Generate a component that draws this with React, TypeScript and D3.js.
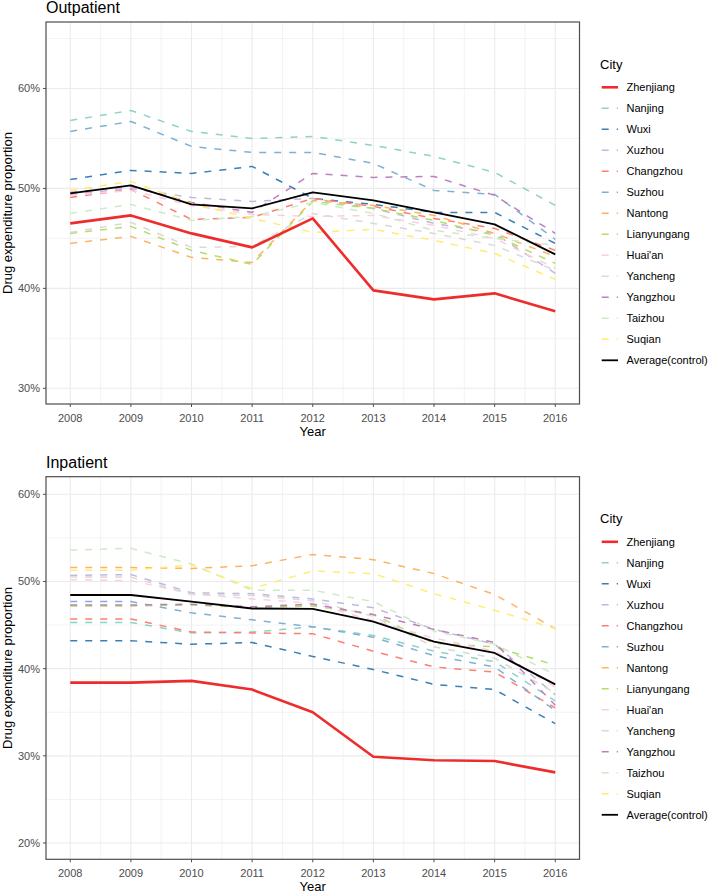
import React from "react";
import * as d3 from "d3";

const years = [2008, 2009, 2010, 2011, 2012, 2013, 2014, 2015, 2016];
const cities = ["Zhenjiang","Nanjing","Wuxi","Xuzhou","Changzhou","Suzhou","Nantong","Lianyungang","Huai'an","Yancheng","Yangzhou","Taizhou","Suqian","Average(control)"];
const cityColors = ["#EE2C2C","#8DD3C7","#3A7FB5","#BEBADA","#FB8072","#80B1D3","#FDB462","#B3DE69","#FCCDE5","#D9D9D9","#BC80BD","#CCEBC5","#FFED6F","#000000"];

// Outpatient (%)
const outZhenjiang = [46.5, 47.3, 45.5, 44.1, 47.0, 39.8, 38.9, 39.5, 37.7];
const outNanjing = [56.8, 57.8, 55.7, 55.0, 55.2, 54.3, 53.2, 51.6, 48.3];
const outWuxi = [50.9, 51.8, 51.5, 52.2, 49.0, 48.4, 47.6, 47.6, 44.5];
const outXuzhou = [49.4, 50.0, 49.1, 48.7, 49.0, 48.0, 46.5, 45.5, 41.5];
const outChangzhou = [49.1, 49.9, 46.9, 47.1, 49.0, 48.2, 47.0, 46.0, 43.8];
const outSuzhou = [55.7, 56.7, 54.2, 53.6, 53.6, 52.5, 49.8, 49.4, 44.9];
const outNantong = [44.5, 45.2, 43.1, 42.6, 48.8, 48.3, 47.3, 45.5, 43.2];
const outLianyungang = [45.5, 46.2, 43.8, 42.4, 48.7, 48.0, 46.8, 45.3, 42.5];
const outHuaian = [49.3, 49.8, 48.3, 47.4, 47.2, 47.3, 46.3, 45.0, 42.0];
const outYancheng = [45.6, 46.6, 44.1, 44.2, 47.5, 46.5, 45.5, 44.3, 41.8];
const outYangzhou = [49.6, 50.2, 48.6, 47.6, 51.5, 51.1, 51.2, 49.3, 45.5];
const outTaizhou = [47.5, 48.4, 46.8, 47.2, 48.6, 47.5, 45.8, 45.0, 44.3];
const outSuqian = [49.8, 50.7, 48.5, 47.0, 45.6, 45.9, 44.8, 43.5, 40.9];
const outAverage = [49.5, 50.3, 48.4, 48.0, 49.6, 48.8, 47.6, 46.4, 43.4];

// Inpatient (%)
const inZhenjiang = [38.4, 38.4, 38.6, 37.6, 35.0, 29.9, 29.5, 29.4, 28.1];
const inNanjing = [45.3, 45.3, 44.1, 44.2, 44.8, 43.8, 42.0, 40.8, 36.3];
const inWuxi = [43.2, 43.2, 42.8, 43.0, 41.4, 39.9, 38.2, 37.6, 33.7];
const inXuzhou = [50.7, 50.8, 48.7, 48.6, 48.0, 47.0, 44.5, 42.8, 37.0];
const inChangzhou = [45.7, 45.7, 44.2, 44.1, 44.0, 42.0, 40.2, 39.6, 35.5];
const inSuzhou = [47.7, 47.7, 46.4, 45.6, 44.8, 43.6, 41.5, 40.2, 35.2];
const inNantong = [51.6, 51.6, 51.5, 51.8, 53.1, 52.5, 50.9, 48.5, 44.6];
const inLianyungang = [47.2, 47.2, 47.3, 47.0, 47.2, 46.2, 42.9, 42.5, 40.4];
const inHuaian = [50.2, 50.1, 48.6, 48.0, 47.5, 45.5, 43.5, 42.0, 37.9];
const inYancheng = [50.5, 50.5, 48.5, 48.4, 47.8, 46.0, 42.5, 41.2, 37.2];
const inYangzhou = [47.3, 47.3, 47.4, 47.1, 47.4, 46.2, 44.5, 43.0, 35.8];
const inTaizhou = [53.6, 53.8, 52.0, 49.0, 49.0, 47.7, 44.3, 42.8, 39.3];
const inSuqian = [51.3, 51.3, 51.9, 49.2, 51.2, 50.9, 48.6, 46.7, 44.6];
const inAverage = [48.45, 48.45, 47.7, 46.9, 46.85, 45.4, 43.1, 41.8, 38.2];

const outSeries = [outZhenjiang, outNanjing, outWuxi, outXuzhou, outChangzhou, outSuzhou, outNantong, outLianyungang, outHuaian, outYancheng, outYangzhou, outTaizhou, outSuqian, outAverage];
const inSeries = [inZhenjiang, inNanjing, inWuxi, inXuzhou, inChangzhou, inSuzhou, inNantong, inLianyungang, inHuaian, inYancheng, inYangzhou, inTaizhou, inSuqian, inAverage];

const outYTicks = [30, 40, 50, 60];
const inYTicks = [20, 30, 40, 50, 60];

const FONT = "Liberation Sans, Arial, sans-serif";
const DASH = "7 8";

function styleFor(i: number) {
  if (i === 0) return { w: 2.6, dash: undefined };
  if (i === cities.length - 1) return { w: 1.8, dash: undefined };
  return { w: 1.5, dash: DASH };
}

type PanelProps = {
  title: string;
  series: number[][];
  yTicks: number[];
  yDomain: [number, number];
  top: number;
  bottom: number;
  legendTop: number;
};

function Panel({ title, series, yTicks, yDomain, top, bottom, legendTop }: PanelProps) {
  const left = 46;
  const right = 579.5;
  const x = d3.scaleLinear().domain([2007.6, 2016.4]).range([left, right]);
  const y = d3.scaleLinear().domain(yDomain).range([bottom, top]);
  const line = d3.line<number>().x((_, i) => x(years[i])).y((d) => y(d));
  const minorX = d3.range(2008.5, 2016, 1);
  const minorY = yTicks.slice(0, -1).map((t) => t + 5).concat(yTicks[yTicks.length - 1] + 5 <= yDomain[1] ? [yTicks[yTicks.length - 1] + 5] : []);
  const order = [...cities.keys()].slice(1, cities.length - 1).concat([0, cities.length - 1]);
  return (
    <g>
      <text x={left} y={top - 9} fontSize={16} fontFamily={FONT} fill="#000">{title}</text>
      {minorX.map((v) => (
        <line key={"mx" + v} x1={x(v)} x2={x(v)} y1={top} y2={bottom} stroke="#EBEBEB" strokeWidth={0.6} />
      ))}
      {minorY.map((v) => (
        <line key={"my" + v} x1={left} x2={right} y1={y(v)} y2={y(v)} stroke="#EBEBEB" strokeWidth={0.6} />
      ))}
      {years.map((v) => (
        <line key={"gx" + v} x1={x(v)} x2={x(v)} y1={top} y2={bottom} stroke="#EBEBEB" strokeWidth={1.1} />
      ))}
      {yTicks.map((v) => (
        <line key={"gy" + v} x1={left} x2={right} y1={y(v)} y2={y(v)} stroke="#EBEBEB" strokeWidth={1.1} />
      ))}
      {order.map((i) => {
        const s = styleFor(i);
        return (
          <path key={"l" + i} d={line(series[i]) || ""} fill="none" stroke={cityColors[i]} strokeWidth={s.w} strokeDasharray={s.dash} strokeLinejoin="round" />
        );
      })}
      <rect x={left} y={top} width={right - left} height={bottom - top} fill="none" stroke="#4D4D4D" strokeWidth={1.2} />
      {yTicks.map((v) => (
        <g key={"ty" + v}>
          <line x1={left - 3} x2={left} y1={y(v)} y2={y(v)} stroke="#4D4D4D" strokeWidth={1} />
          <text x={left - 6} y={y(v) + 4} textAnchor="end" fontSize={11} fontFamily={FONT} fill="#4D4D4D">{v + "%"}</text>
        </g>
      ))}
      {years.map((v) => (
        <g key={"tx" + v}>
          <line x1={x(v)} x2={x(v)} y1={bottom} y2={bottom + 3} stroke="#4D4D4D" strokeWidth={1} />
          <text x={x(v)} y={bottom + 17.5} textAnchor="middle" fontSize={11} fontFamily={FONT} fill="#4D4D4D">{v}</text>
        </g>
      ))}
      <text x={(left + right) / 2} y={bottom + 32} textAnchor="middle" fontSize={13} fontFamily={FONT} fill="#000">Year</text>
      <text transform={`translate(12,${(top + bottom) / 2}) rotate(-90)`} textAnchor="middle" fontSize={13} fontFamily={FONT} fill="#000">Drug expenditure proportion</text>
      <text x={600} y={legendTop + 4.5} fontSize={13} fontFamily={FONT} fill="#000">City</text>
      {cities.map((c, i) => {
        const s = styleFor(i);
        const yy = legendTop + 23.3 + i * 21;
        return (
          <g key={"lg" + i}>
            <line x1={601.7} x2={618} y1={yy} y2={yy} stroke={cityColors[i]} strokeWidth={s.w} strokeDasharray={s.dash} />
            <text x={626.5} y={yy + 4} fontSize={11} fontFamily={FONT} fill="#000">{c}</text>
          </g>
        );
      })}
    </g>
  );
}

export default function App() {
  return (
    <svg width={709} height={894} style={{ position: "absolute", left: 0, top: 0, background: "#fff" }}>
      <rect x={0} y={0} width={709} height={894} fill="#fff" />
      <Panel title="Outpatient" series={outSeries} yTicks={outYTicks} yDomain={[28.43, 66.65]} top={22} bottom={404} legendTop={64} />
      <Panel title="Inpatient" series={inSeries} yTicks={inYTicks} yDomain={[18.13, 62.02]} top={476.7} bottom={859.3} legendTop={518.5} />
    </svg>
  );
}
